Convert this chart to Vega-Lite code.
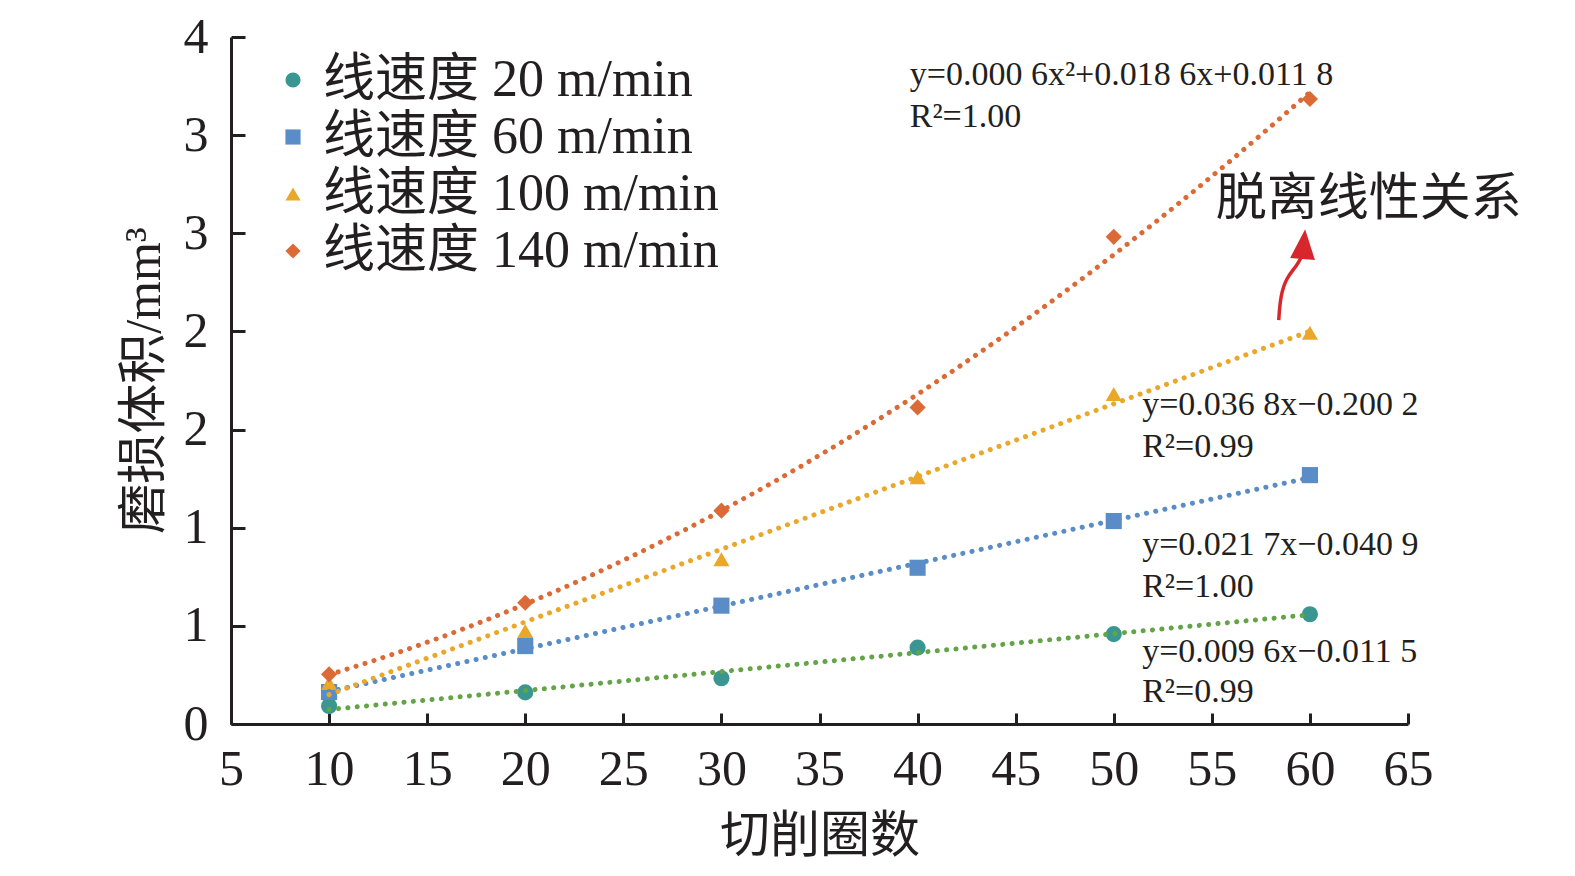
{
  "$schema": "https://vega.github.io/schema/vega-lite/v6.json",
  "width": 1177,
  "height": 687,
  "autosize": {"type": "none"},
  "padding": {"left": 231, "top": 37, "right": 167, "bottom": 152},
  "background": "white",
  "config": {
    "view": {"stroke": null},
    "axis": {
      "grid": false,
      "domainColor": "#231f20",
      "domainWidth": 3,
      "tickColor": "#231f20",
      "tickWidth": 3,
      "labelColor": "#231f20",
      "labelFont": "Liberation Serif",
      "labelFontSize": 50,
      "labelFlush": false,
      "titleFont": "'Liberation Serif', 'Noto Sans CJK SC'",
      "titleFontSize": 50,
      "titleFontWeight": "normal",
      "titleColor": "#231f20"
    }
  },
  "datasets": {
    "pts": [
      {"series": "线速度 20 m/min", "n": 10, "v": 0.092},
      {"series": "线速度 20 m/min", "n": 20, "v": 0.161},
      {"series": "线速度 20 m/min", "n": 30, "v": 0.233},
      {"series": "线速度 20 m/min", "n": 40, "v": 0.389},
      {"series": "线速度 20 m/min", "n": 50, "v": 0.458},
      {"series": "线速度 20 m/min", "n": 60, "v": 0.559},
      {"series": "线速度 60 m/min", "n": 10, "v": 0.163},
      {"series": "线速度 60 m/min", "n": 20, "v": 0.397},
      {"series": "线速度 60 m/min", "n": 30, "v": 0.603},
      {"series": "线速度 60 m/min", "n": 40, "v": 0.796},
      {"series": "线速度 60 m/min", "n": 50, "v": 1.034},
      {"series": "线速度 60 m/min", "n": 60, "v": 1.268},
      {"series": "线速度 100 m/min", "n": 10, "v": 0.209},
      {"series": "线速度 100 m/min", "n": 20, "v": 0.474},
      {"series": "线速度 100 m/min", "n": 30, "v": 0.839},
      {"series": "线速度 100 m/min", "n": 40, "v": 1.257},
      {"series": "线速度 100 m/min", "n": 50, "v": 1.681},
      {"series": "线速度 100 m/min", "n": 60, "v": 1.993},
      {"series": "线速度 140 m/min", "n": 10, "v": 0.253},
      {"series": "线速度 140 m/min", "n": 20, "v": 0.618},
      {"series": "线速度 140 m/min", "n": 30, "v": 1.087},
      {"series": "线速度 140 m/min", "n": 40, "v": 1.613},
      {"series": "线速度 140 m/min", "n": 50, "v": 2.482},
      {"series": "线速度 140 m/min", "n": 60, "v": 3.184}
    ],
    "notes": [
      {"n": 39.6, "v": 3.255, "label": "y=0.000 6x²+0.018 6x+0.011 8"},
      {"n": 39.6, "v": 3.043, "label": "R²=1.00"},
      {"n": 51.45, "v": 1.574, "label": "y=0.036 8x−0.200 2"},
      {"n": 51.45, "v": 1.359, "label": "R²=0.99"},
      {"n": 51.45, "v": 0.861, "label": "y=0.021 7x−0.040 9"},
      {"n": 51.45, "v": 0.649, "label": "R²=1.00"},
      {"n": 51.45, "v": 0.317, "label": "y=0.009 6x−0.011 5"},
      {"n": 51.45, "v": 0.114, "label": "R²=0.99"}
    ],
    "callout": [
      {"n": 55.2, "v": 2.67, "label": "脱离线性关系"}
    ],
    "arrow": [
      {"k": 1, "n": 58.41, "v": 2.058},
      {"k": 2, "n": 58.50, "v": 2.185},
      {"k": 3, "n": 58.82, "v": 2.277},
      {"k": 4, "n": 59.33, "v": 2.333},
      {"k": 5, "n": 59.62, "v": 2.390}
    ],
    "head": [
      {"n": 59.69, "v": 2.445}
    ]
  },
  "encoding": {
    "x": {
      "field": "n",
      "type": "quantitative",
      "title": "切削圈数",
      "scale": {"domain": [5, 65], "nice": false, "zero": false},
      "axis": {
        "values": [5, 10, 15, 20, 25, 30, 35, 40, 45, 50, 55, 60, 65],
        "tickSize": -11,
        "labelPadding": 31,
        "titleY": 112,
        "titleBaseline": "middle"
      }
    },
    "y": {
      "field": "v",
      "type": "quantitative",
      "title": "磨损体积/mm³",
      "scale": {"domain": [0, 3.5], "nice": false, "zero": false},
      "axis": {
        "values": [0, 0.5, 1, 1.5, 2, 2.5, 3, 3.5],
        "format": ".0f",
        "tickSize": -14,
        "labelPadding": 37,
        "titleX": -87,
        "titleY": 343,
        "titleAngle": -90,
        "titleAlign": "center",
        "titleBaseline": "middle"
      }
    }
  },
  "layer": [
    {
      "data": {"name": "pts"},
      "mark": {"type": "point", "filled": true, "opacity": 1, "size": 260},
      "encoding": {
        "color": {
          "field": "series",
          "type": "nominal",
          "scale": {
            "domain": ["线速度 20 m/min", "线速度 60 m/min", "线速度 100 m/min", "线速度 140 m/min"],
            "range": ["#3a9690", "#5a8dc8", "#e9a82a", "#dc6a36"]
          },
          "legend": {
            "orient": "none",
            "legendX": 36,
            "legendY": 17,
            "title": null,
            "padding": 0,
            "labelFont": "'Liberation Serif', 'Noto Sans CJK SC'",
            "labelFontSize": 52,
            "labelColor": "#231f20",
            "labelOffset": 4,
            "symbolSize": 230,
            "rowPadding": 5,
            "labelLimit": 600
          }
        },
        "shape": {
          "field": "series",
          "type": "nominal",
          "scale": {
            "domain": ["线速度 20 m/min", "线速度 60 m/min", "线速度 100 m/min", "线速度 140 m/min"],
            "range": ["circle", "square", "triangle-up", "diamond"]
          },
          "legend": {
            "orient": "none",
            "legendX": 36,
            "legendY": 17,
            "title": null,
            "padding": 0,
            "labelFont": "'Liberation Serif', 'Noto Sans CJK SC'",
            "labelFontSize": 52,
            "labelColor": "#231f20",
            "labelOffset": 4,
            "symbolSize": 230,
            "rowPadding": 5,
            "labelLimit": 600
          }
        }
      }
    },
    {
      "data": {"name": "pts"},
      "transform": [
        {"filter": "datum.series === '线速度 20 m/min'"},
        {"regression": "v", "on": "n", "method": "linear"}
      ],
      "mark": {"type": "line", "color": "#63a446", "strokeWidth": 5, "strokeDash": [0.1, 9.3], "strokeCap": "round"}
    },
    {
      "data": {"name": "pts"},
      "transform": [
        {"filter": "datum.series === '线速度 60 m/min'"},
        {"regression": "v", "on": "n", "method": "linear"}
      ],
      "mark": {"type": "line", "color": "#5a8dc8", "strokeWidth": 5, "strokeDash": [0.1, 9.3], "strokeCap": "round"}
    },
    {
      "data": {"name": "pts"},
      "transform": [
        {"filter": "datum.series === '线速度 100 m/min'"},
        {"regression": "v", "on": "n", "method": "linear"}
      ],
      "mark": {"type": "line", "color": "#e9a82a", "strokeWidth": 5, "strokeDash": [0.1, 9.3], "strokeCap": "round"}
    },
    {
      "data": {"name": "pts"},
      "transform": [
        {"filter": "datum.series === '线速度 140 m/min'"},
        {"regression": "v", "on": "n", "method": "poly", "order": 2}
      ],
      "mark": {"type": "line", "color": "#dc6a36", "strokeWidth": 5, "strokeDash": [0.1, 9.3], "strokeCap": "round"}
    },
    {
      "data": {"name": "notes"},
      "mark": {"type": "text", "align": "left", "baseline": "alphabetic", "font": "Liberation Serif", "fontSize": 34, "color": "#231f20"},
      "encoding": {"text": {"field": "label", "type": "nominal"}}
    },
    {
      "data": {"name": "callout"},
      "mark": {"type": "text", "align": "left", "baseline": "middle", "font": "'Liberation Serif', 'Noto Sans CJK SC'", "fontSize": 51, "color": "#231f20"},
      "encoding": {"text": {"field": "label", "type": "nominal"}}
    },
    {
      "data": {"name": "arrow"},
      "mark": {"type": "line", "color": "#d7272d", "strokeWidth": 3.5, "interpolate": "basis"},
      "encoding": {"order": {"field": "k", "type": "quantitative"}}
    },
    {
      "data": {"name": "head"},
      "mark": {"type": "point", "shape": "M0,-1L0.83,1L-0.83,1Z", "filled": true, "opacity": 1, "size": 900, "angle": 5, "color": "#d7272d"}
    }
  ]
}
